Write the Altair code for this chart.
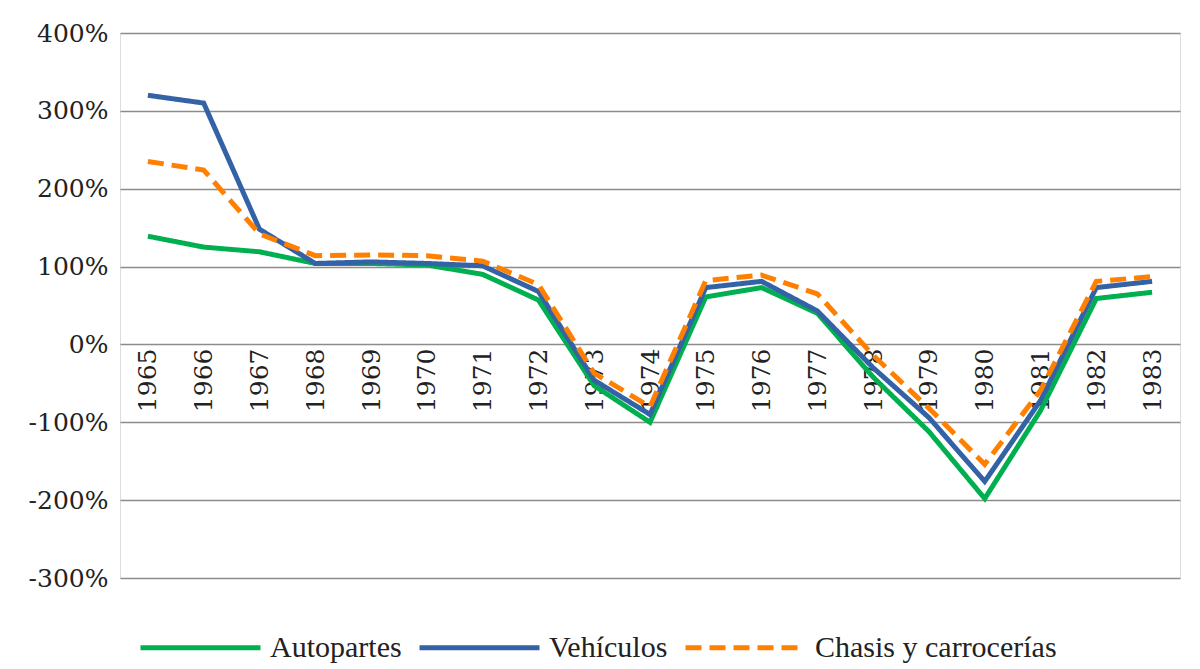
import altair as alt
import pandas as pd

years = list(range(1965, 1984))
autopartes = [139, 125, 119, 104, 104, 102, 90, 57, -53, -100, 61, 73, 40, -42, -112, -198, -85, 59, 67]
vehiculos = [320, 310, 148, 104, 106, 104, 101, 68, -46, -90, 73, 81, 43, -30, -94, -176, -72, 73, 81]
chasis = [235, 224, 142, 114, 115, 114, 107, 77, -37, -80, 82, 89, 65, -14, -82, -154, -59, 81, 87]

series_names = ["Autopartes", "Vehículos", "Chasis y carrocerías"]
series_values = [autopartes, vehiculos, chasis]
colors = ["#00B050", "#3462A6", "#FF8000"]
dashes = [[1, 0], [1, 0], [16, 8]]

rows = []
for order, (name, vals) in enumerate(zip(series_names, series_values)):
    for y, v in zip(years, vals):
        rows.append({"year": y, "value": v, "serie": name, "order": order})
df = pd.DataFrame(rows)

AXFONT = "DejaVu Serif"
LGFONT = "Liberation Serif"

legend_def = alt.Legend(
    title=None, orient="none", direction="horizontal",
    legendX=18, legendY=552,
    symbolType="stroke", symbolSize=14400, symbolStrokeWidth=5,
    labelFont=LGFONT, labelFontSize=30, labelColor="#222222", labelLimit=500,
    labelOffset=7, columnPadding=7, symbolOffset=0, padding=0,
)

chart = alt.Chart(df).mark_line(strokeWidth=5).encode(
    x=alt.X("year:Q", scale=alt.Scale(domain=[1964.5, 1983.5], nice=False, zero=False),
            axis=alt.Axis(values=years, format="d", labelAngle=270, offset=-234,
                          domain=False, ticks=False, grid=False, title=None,
                          labelFont=AXFONT, labelFontSize=25, labelColor="#222222",
                          labelPadding=4, labelFlush=False, labelOverlap=False)),
    y=alt.Y("value:Q", scale=alt.Scale(domain=[-300, 400], nice=False),
            axis=alt.Axis(values=list(range(-300, 401, 100)), labelExpr="datum.value + '%'",
                          domain=False, ticks=False, title=None, gridColor="#8c8c8c",
                          gridWidth=1.5, labelFont=AXFONT, labelFontSize=25,
                          labelColor="#222222", labelPadding=12)),
    color=alt.Color("serie:N", scale=alt.Scale(domain=series_names, range=colors), legend=legend_def),
    strokeDash=alt.StrokeDash("serie:N", scale=alt.Scale(domain=series_names, range=dashes), legend=legend_def),
    order=alt.Order("order:Q"),
    detail="serie:N",
).properties(
    width=1060, height=545,
    autosize=alt.AutoSizeParams(type="none"),
    padding={"left": 112, "top": 25, "right": 10, "bottom": 88},
).configure_view(stroke=None).configure(background="white")

chart.save("out.html", embed_options={"renderer": "svg", "actions": False})
